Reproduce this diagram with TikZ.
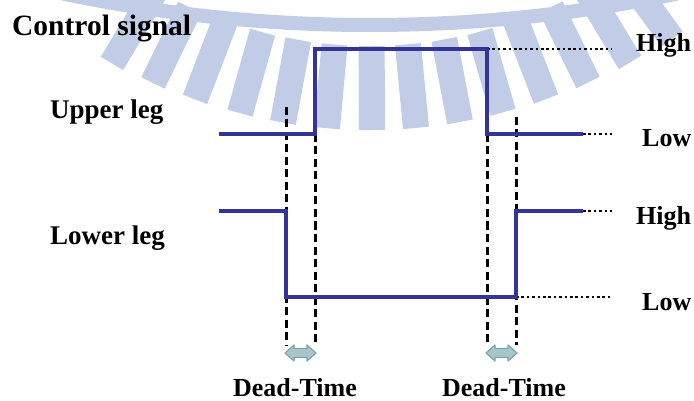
\documentclass[tikz,border=0pt]{standalone}
\usepackage{fontspec}
\setmainfont{Liberation Serif}
\definecolor{sigblue}{RGB}{52,52,152}
\definecolor{wmblue}{RGB}{193,204,231}
\definecolor{dtfill}{RGB}{166,198,204}
\definecolor{dtedge}{RGB}{126,164,171}
\tikzset{
  wave/.style={line width=4.2pt, draw=sigblue, line join=miter},
  levelline/.style={line width=2.6pt, dash pattern=on 2.6pt off 2.8pt},
  edgeline/.style={line width=3pt, dash pattern=on 8pt off 4.5pt},
  lbl/.style={font=\fontsize{26}{30}\selectfont\bfseries, inner sep=0pt, anchor=base west},
  wm/.style={fill=wmblue},
  dtarrowshape/.style={fill=dtfill, draw=dtedge, line width=1.2pt, line join=round}
}
\newcommand{\deadarrow}[1]{%
  \draw[dtarrowshape, shift={#1}]
    (-15.5,0) -- (-6.5,-8) -- (-6.5,-4.5) -- (6.5,-4.5) -- (6.5,-8)
    -- (15.5,0) -- (6.5,8) -- (6.5,4.5) -- (-6.5,4.5) -- (-6.5,8) -- cycle;}
\begin{document}
\begin{tikzpicture}[x=1pt,y=-1pt]
\useasboundingbox (0,0) rectangle (694,401);
\fill[white] (0,0) rectangle (694,401);

% faint emblem in the background: outer ring and its teeth
\begin{scope}
  \clip (0,0) rectangle (694,401);
  \draw[draw=wmblue, line width=14pt] (370,-1475) circle (1500);
  \foreach \xb in {112,153,195,240,283,327,372,416,460,503,546,588,630,672} {
    \pgfmathsetmacro\dx{(\xb-370)/10}
    \pgfmathsetmacro\yb{130-0.1*\dx*\dx}
    \pgfmathsetmacro\ang{1.2*\dx}
    \fill[wm, rotate around={\ang:(\xb,\yb)}] (\xb-13,\yb) rectangle (\xb+13,\yb-84);
  }
\end{scope}

% switching instants
\coordinate (ua) at (219,134);
\coordinate (ub) at (315,134);
\coordinate (uc) at (315,49);
\coordinate (ud) at (487,49);
\coordinate (ue) at (487,134);
\coordinate (uf) at (583,134);
\coordinate (la) at (219,211);
\coordinate (lb) at (286,211);
\coordinate (lc) at (286,297);
\coordinate (ld) at (516,297);
\coordinate (le) at (516,211);
\coordinate (lf) at (583,211);
\coordinate (hiU) at (612,49);
\coordinate (loU) at (612,134);
\coordinate (hiL) at (612,211);
\coordinate (loL) at (612,297);

% dead-time markers
\coordinate (t1) at (286,107);
\coordinate (t1b) at (286,345);
\coordinate (t2b) at (315,345);
\coordinate (t3b) at (487,345);
\coordinate (t4) at (516,117);
\coordinate (t4b) at (516,345);
\draw[edgeline] (t1) -- (t1b);
\draw[edgeline] (ub) -- (t2b);
\draw[edgeline] (ue) -- (t3b);
\draw[edgeline] (t4) -- (t4b);

% level references
\draw[levelline] (ud) -- (hiU);
\draw[levelline] (uf) -- (loU);
\draw[levelline] (lf) -- (hiL);
\draw[levelline] (ld) -- (loL);

% gate signals
\draw[wave] (ua) -- (ub) -- (uc) -- (ud) -- (ue) -- (uf);
\draw[wave] (la) -- (lb) -- (lc) -- (ld) -- (le) -- (lf);

\deadarrow{(300.5,353)}
\deadarrow{(501.5,353)}

% labels
\node[lbl, font=\fontsize{29.5}{33}\selectfont\bfseries] (title) at (12,36) {Control signal};
\node[lbl, font=\fontsize{27}{31}\selectfont\bfseries] (upper) at (50,119) {Upper leg};
\node[lbl, font=\fontsize{27}{31}\selectfont\bfseries] (lower) at (50,244) {Lower leg};
\node[lbl] (highU) at (636,52) {High};
\node[lbl] (lowU) at (642,147) {Low};
\node[lbl] (highL) at (636,225) {High};
\node[lbl] (lowL) at (642,310) {Low};
\node[lbl, anchor=base] (dt1) at (295,396) {Dead-Time};
\node[lbl, anchor=base] (dt2) at (504,396) {Dead-Time};
\end{tikzpicture}
\end{document}
